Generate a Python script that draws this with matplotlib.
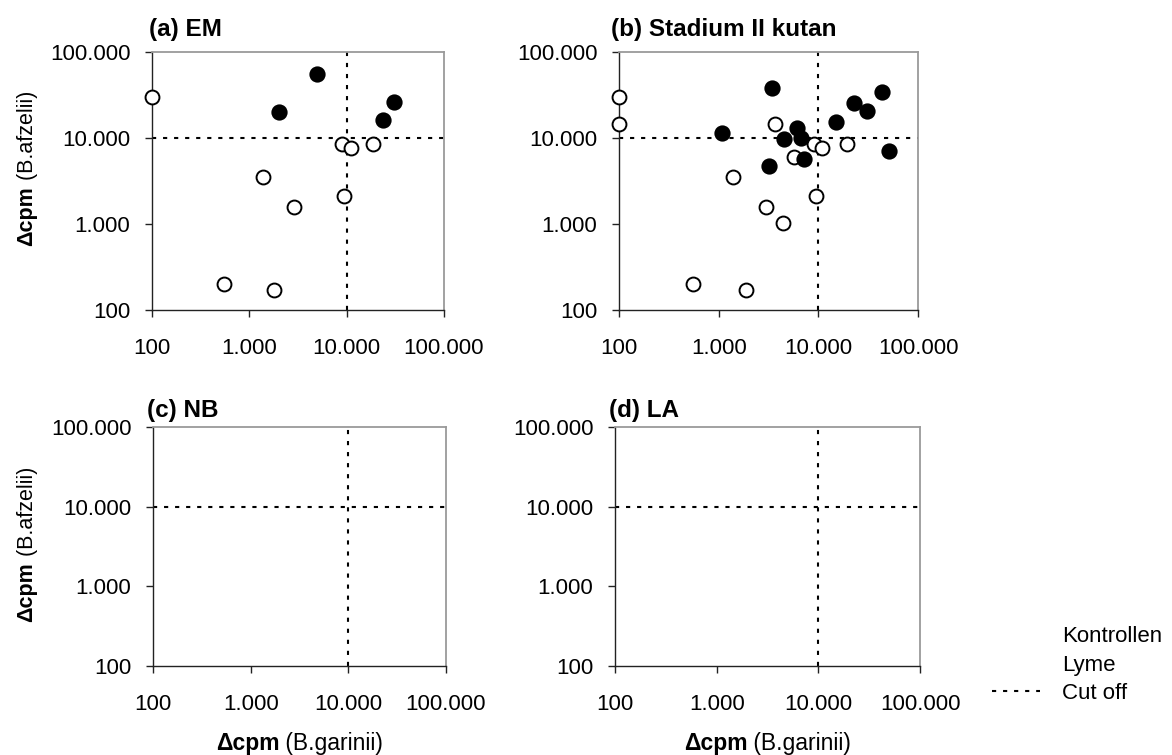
import matplotlib
matplotlib.use("Agg")
import matplotlib.pyplot as plt
from matplotlib.lines import Line2D
from matplotlib.ticker import FixedLocator, FixedFormatter, NullLocator

plt.rcParams['font.family'] = ['Liberation Sans', 'DejaVu Sans']

# ---------------- data ----------------
tick_values = [100, 1000, 10000, 100000]
tick_labels = ['100', '1.000', '10.000', '100.000']
cutoff = 10000

panel_titles = ['(a) EM', '(b) Stadium II kutan', '(c) NB', '(d) LA']
legend_labels = ['Kontrollen', 'Lyme', 'Cut off']
x_label_bold, x_label_rest = '\u0394cpm', ' (B.garinii)'
y_label_bold, y_label_rest = '\u0394cpm', ' (B.afzelii)'

# (a) EM
em_ctrl_x = [100, 9000, 11000, 18700, 1380, 9400, 2870, 550, 1810]
em_ctrl_y = [29600, 8500, 7700, 8500, 3500, 2140, 1580, 198, 172]
em_lyme_x = [5000, 2000, 31000, 23700]
em_lyme_y = [56000, 19800, 26300, 16400]

# (b) Stadium II kutan
st_ctrl_x = [100, 100, 3670, 9100, 11000, 19200, 5690, 1380, 9460, 2960, 4450, 548, 1880]
st_ctrl_y = [29600, 14700, 14700, 8440, 7730, 8510, 6000, 3510, 2140, 1580, 1020, 198, 172]
st_lyme_x = [3400, 43100, 22900, 30500, 15200, 1070, 6050, 4550, 6680, 51400, 7230, 3220]
st_lyme_y = [37700, 34400, 25600, 20700, 15500, 11300, 12900, 9840, 10100, 7000, 5750, 4710]

# (c) NB and (d) LA: no points
nb_ctrl_x, nb_ctrl_y, nb_lyme_x, nb_lyme_y = [], [], [], []
la_ctrl_x, la_ctrl_y, la_lyme_x, la_lyme_y = [], [], [], []

panels_data = [
    (em_ctrl_x, em_ctrl_y, em_lyme_x, em_lyme_y),
    (st_ctrl_x, st_ctrl_y, st_lyme_x, st_lyme_y),
    (nb_ctrl_x, nb_ctrl_y, nb_lyme_x, nb_lyme_y),
    (la_ctrl_x, la_ctrl_y, la_lyme_x, la_lyme_y),
]

# ---------------- layout (pixels) ----------------
W, H = 1172, 755
DPI = 100
fig = plt.figure(figsize=(W / DPI, H / DPI), dpi=DPI)

ax_px = [(152, 52, 444, 310), (619, 52, 918, 310),
         (153, 427, 446, 666), (615, 427, 920, 666)]
title_px = [(149, 36), (611, 36), (147, 417), (609, 417)]

TICK_FS = 16
TITLE_FS = 17.5
XLAB_FS = 16.5
YLAB_FS = 15.5
LEG_FS = 16

cut_style = dict(color='black', lw=1.5, linestyle=(0, (2.0, 3.3)), zorder=1)


def fx(px):
    return px / W


def fy(py):
    return 1 - py / H


axes = []
for (l, t, r, b), (cx, cy, lx, ly) in zip(ax_px, panels_data):
    ax = fig.add_axes([fx(l), fy(b), fx(r) - fx(l), fy(t) - fy(b)])
    ax.set_xscale('log')
    ax.set_yscale('log')
    ax.set_xlim(tick_values[0], tick_values[-1])
    ax.set_ylim(tick_values[0], tick_values[-1])
    for axis in (ax.xaxis, ax.yaxis):
        axis.set_major_locator(FixedLocator(tick_values))
        axis.set_major_formatter(FixedFormatter(tick_labels))
        axis.set_minor_locator(NullLocator())
    ax.tick_params(axis='both', direction='out', length=5, width=1.0,
                   color='#222222', labelsize=TICK_FS, labelcolor='black')
    ax.tick_params(axis='x', pad=15.0)
    ax.tick_params(axis='y', pad=10.5)
    for s in ('left', 'bottom'):
        ax.spines[s].set_color('#222222')
        ax.spines[s].set_linewidth(1.0)
    for s in ('top', 'right'):
        ax.spines[s].set_color('#9a9a9a')
        ax.spines[s].set_linewidth(1.3)
    ax.axhline(cutoff, **cut_style)
    ax.axvline(cutoff, **cut_style)
    ax.plot(cx, cy, 'o', ms=10, mfc='white', mec='black', mew=1.4,
            clip_on=False, zorder=3)
    ax.plot(lx, ly, 'o', ms=10.5, mfc='black', mec='black', mew=1.2,
            clip_on=False, zorder=4)
    axes.append(ax)

for (tx, ty), title in zip(title_px, panel_titles):
    fig.text(fx(tx), fy(ty), title, fontsize=TITLE_FS, fontweight='bold',
             ha='left', va='baseline')

# legend (no visible markers, as in the reference)
handles = [Line2D([], [], linestyle='none'),
           Line2D([], [], linestyle='none'),
           Line2D([], [], **{k: v for k, v in cut_style.items() if k != 'zorder'})]
fig.legend(handles, legend_labels, loc='upper left',
           bbox_to_anchor=(fx(992), fy(626)), frameon=False, fontsize=LEG_FS,
           borderpad=0, borderaxespad=0, handlelength=2.15, handletextpad=1.0,
           labelspacing=0.34)

# axis labels (bold "Δcpm" + regular rest), positioned with the renderer
fig.canvas.draw()
renderer = fig.canvas.get_renderer()

# x labels under the bottom panels
for (l, t, r, b) in ax_px[2:]:
    cx_px = (l + r) / 2
    cy_px = 741
    t1 = fig.text(0, fy(cy_px), x_label_bold, fontsize=XLAB_FS, fontweight='bold',
                  ha='left', va='center_baseline')
    t2 = fig.text(0, fy(cy_px), x_label_rest, fontsize=XLAB_FS,
                  ha='left', va='center_baseline')
    w1 = t1.get_window_extent(renderer).width
    w2 = t2.get_window_extent(renderer).width
    start = cx_px - (w1 + w2) / 2
    t1.set_x(fx(start))
    t2.set_x(fx(start + w1))

# y labels left of the left panels
for center_y in (168, 544):
    x_px = 27
    t1 = fig.text(fx(x_px), 0, y_label_bold, fontsize=YLAB_FS, fontweight='bold',
                  rotation=90, ha='center', va='top')
    t2 = fig.text(fx(x_px), 0, y_label_rest, fontsize=YLAB_FS,
                  rotation=90, ha='center', va='bottom')
    h1 = t1.get_window_extent(renderer).height
    h2 = t2.get_window_extent(renderer).height
    bottom = center_y + (h1 + h2) / 2   # pixel (top-origin) of the lowest point
    junction = bottom - h1
    t1.set_y(fy(junction))
    t2.set_y(fy(junction))

fig.savefig('out.png', dpi=DPI)
